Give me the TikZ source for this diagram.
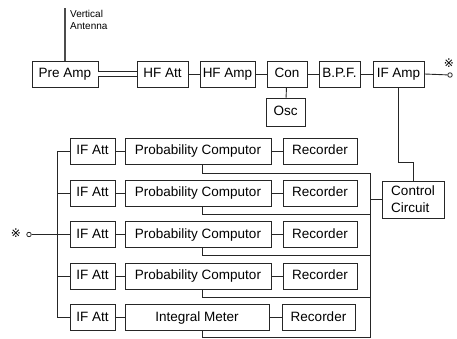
\documentclass[tikz,border=0pt]{standalone}
\usepackage{fontspec}
\setmainfont{Liberation Sans}
\newfontfamily\symfont{DejaVu Sans}
\usepackage{xcolor}
\usepackage{tikz}
\usetikzlibrary{positioning, calc}

\begin{document}
\begin{tikzpicture}[
  x=1pt, y=-1pt,
  blk/.style={rectangle, draw=black!85, line width=0.9pt, minimum height=26pt, inner sep=0pt, text height=9.5pt, text depth=2.5pt, font=\fontsize{13.5}{15}\selectfont},
  wire/.style={draw=black!85, line width=0.9pt},
  term/.style={circle, draw=black!85, line width=0.8pt, minimum size=4.5pt, inner sep=0pt},
  refmark/.style={font=\symfont\fontsize{12}{12}\selectfont, inner sep=0pt}
]
  \useasboundingbox (0,0) rectangle (457,339);

  % receiver chain
  \node[blk, minimum width=66pt] (pre)   at (65,74)    {Pre Amp};
  \node[blk, minimum width=51pt] (hfatt) at (162.5,74) {HF Att};
  \node[blk, minimum width=55pt] (hfamp) at (227.5,74) {HF Amp};
  \node[blk, minimum width=40pt] (con)   at (287,74)   {Con};
  \node[blk, minimum width=39pt, minimum height=28pt] (osc) at (285.5,112) {Osc};
  \node[blk, minimum width=41pt] (bpf)   at (339.5,74) {B.P.F.};
  \node[blk, minimum width=51pt] (ifamp) at (398.5,74) {IF Amp};
  \node[blk, minimum width=62pt, minimum height=37pt, align=left, text height=, text depth=, font=\fontsize{13.5}{17}\selectfont] (ctl) at (413,199.5) {Control\\Circuit};

  \coordinate (ant) at (65,8);
  \node[anchor=north west, align=left, inner sep=0pt, font=\fontsize{10}{12.5}\selectfont] (antlab) at (70,10) {Vertical\\Antenna};
  \node[term] (out) at (450,75) {};
  \node[refmark] (outmk) at (449,63) {※};

  \draw[wire, line width=1.6pt, black!70] (pre.north) -- (ant);
  \draw[wire, double, double distance=4pt, line width=0.8pt] (pre) -- (hfatt);
  \draw[wire] (hfatt) -- (hfamp);
  \draw[wire] (hfamp) -- (con);
  \draw[wire] (con) -- (bpf);
  \draw[wire] (bpf) -- (ifamp);
  \draw[wire] (con) -- (osc);
  \draw[wire] (ifamp.east) -- (out);
  \draw[wire] (ifamp.south) |- ($(ctl.north)+(0,-18)$) -- (ctl.north);

  % recording channels
  \node[blk, minimum width=45pt]  (if1)  at (92.5,151) {IF Att};
  \node[blk, minimum width=146pt] (pc1)  at (198,151)  {Probability Computor};
  \node[blk, minimum width=74pt]  (rec1) at (320,151)  {Recorder};

  \node[blk, minimum width=45pt]  (if2)  at (92.5,193) {IF Att};
  \node[blk, minimum width=146pt] (pc2)  at (198,193)  {Probability Computor};
  \node[blk, minimum width=74pt]  (rec2) at (320,193)  {Recorder};

  \node[blk, minimum width=45pt]  (if3)  at (92.5,234.5) {IF Att};
  \node[blk, minimum width=146pt] (pc3)  at (198,234.5)  {Probability Computor};
  \node[blk, minimum width=74pt]  (rec3) at (320,234.5)  {Recorder};

  \node[blk, minimum width=45pt]  (if4)  at (92.5,276) {IF Att};
  \node[blk, minimum width=146pt] (pc4)  at (198,276)  {Probability Computor};
  \node[blk, minimum width=74pt]  (rec4) at (320,276)  {Recorder};

  \node[blk, minimum width=45pt]  (if5)  at (92.5,317.5) {IF Att};
  \node[blk, minimum width=144pt] (im5)  at (197,317.5)  {Integral Meter};
  \node[blk, minimum width=73pt]  (rec5) at (318.5,317.5) {Recorder};

  \node[term] (inp) at (29,234.5) {};
  \node[refmark] (inmk) at (16,233.5) {※};

  \draw[wire] (if1) -- (pc1) -- (rec1);
  \draw[wire] (if2) -- (pc2) -- (rec2);
  \draw[wire] (if3) -- (pc3) -- (rec3);
  \draw[wire] (if4) -- (pc4) -- (rec4);
  \draw[wire] (if5) -- (im5) -- (rec5);

  % input bus
  \draw[wire] (inp) -- (if3.west);
  \draw[wire] (if1.west) -- ++(-12,0) |- (if5.west);
  \draw[wire] (if2.west) -- ++(-12,0);
  \draw[wire] (if4.west) -- ++(-12,0);

  % control bus
  \coordinate (rb1) at (370,173);
  \coordinate (rb2) at (370,214);
  \coordinate (rb3) at (370,255.5);
  \coordinate (rb4) at (370,297);
  \coordinate (rb5) at (370,337.5);
  \draw[wire] ([xshift=4pt]pc1.south) |- (rb1);
  \draw[wire] ([xshift=4pt]pc2.south) |- (rb2);
  \draw[wire] ([xshift=4pt]pc3.south) |- (rb3);
  \draw[wire] ([xshift=4pt]pc4.south) |- (rb4);
  \draw[wire] ([xshift=5pt]im5.south) |- (rb5);
  \draw[wire] (rb1) -- (rb5);
  \draw[wire] (ctl.west) -- (ctl.west -| rb1);
\end{tikzpicture}
\end{document}
